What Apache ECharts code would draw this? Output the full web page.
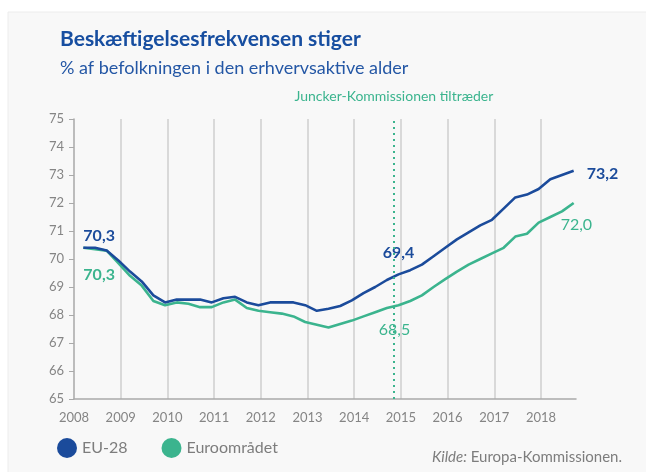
<!DOCTYPE html>
<html>
<head>
<meta charset="utf-8">
<script src="https://cdn.jsdelivr.net/npm/echarts@6/dist/echarts.min.js"></script>
<style>
  html, body { margin: 0; padding: 0; background: #fff; }
  #chart { width: 646px; height: 472px; }
</style>
</head>
<body>
<div id="chart"></div>
<script>
// quarterly data 2008Q1 .. 2018Q3
const quarters = []
for (let y = 2008; y <= 2018; y++) {
  for (let q = 1; q <= 4; q++) {
    if (y === 2018 && q === 4) break
    quarters.push(y + (q - 0.2) / 4)
  }
}

const eu28 = [
  70.4, 70.4, 70.3, 69.95,
  69.55, 69.2, 68.7, 68.45,
  68.55, 68.55, 68.55, 68.45,
  68.6, 68.65, 68.45, 68.35,
  68.45, 68.45, 68.45, 68.35,
  68.15, 68.22, 68.32, 68.52,
  68.78, 69.0, 69.25, 69.45,
  69.6, 69.8, 70.1, 70.4,
  70.7, 70.95, 71.2, 71.4,
  71.8, 72.2, 72.3, 72.5,
  72.85, 73.0, 73.15
]

const euroArea = [
  70.4, 70.35, 70.3, 69.85,
  69.4, 69.05, 68.5, 68.35,
  68.45, 68.4, 68.28, 68.28,
  68.45, 68.55, 68.25, 68.15,
  68.1, 68.05, 67.95, 67.75,
  67.65, 67.55, 67.68, 67.8,
  67.95, 68.1, 68.25, 68.35,
  68.5, 68.7, 69.0, 69.28,
  69.55, 69.8, 70.0, 70.2,
  70.4, 70.8, 70.9, 71.3,
  71.5, 71.7, 72.0
]

const juncker = 2014.85
const blue = '#1b4b9b'
const green = '#3bb48e'
const grey = '#7d7d7d'

const chart = echarts.init(document.getElementById('chart'))

const panel = {
  type: 'rect', z: -10,
  shape: { x: 8, y: 12, width: 640, height: 470 },
  style: { fill: '#f8f8f8', stroke: '#ececec', lineWidth: 1 }
}

chart.setOption({
  backgroundColor: '#fff',
  animation: false,
  textStyle: { fontFamily: 'Lato' },
  graphic: [panel],
  title: {
    text: 'Beskæftigelsesfrekvensen stiger',
    subtext: '% af befolkningen i den erhvervsaktive alder',
    left: 55,
    top: 24,
    itemGap: 9,
    textStyle: { color: '#174ea0', fontSize: 21, fontWeight: 'bold', fontFamily: 'Lato' },
    subtextStyle: { color: '#2457a5', fontSize: 18, fontFamily: 'Lato' }
  },
  legend: {
    left: 52,
    top: 433,
    icon: 'circle',
    itemWidth: 20,
    itemHeight: 20,
    itemGap: 34,
    textStyle: { color: grey, fontSize: 16, padding: [8, 0, 0, 0] },
    data: ['EU-28', 'Euroområdet']
  },
  grid: { left: 74, right: 70, top: 119, bottom: 73 },
  xAxis: {
    type: 'value',
    min: 2008,
    max: 2018.75,
    interval: 1,
    axisLine: { lineStyle: { color: '#a9a9a9', width: 1.5 } },
    axisTick: { show: false },
    axisLabel: {
      color: '#858585', fontSize: 13, margin: 12, showMaxLabel: false,
      formatter: v => Number.isInteger(v) ? String(v) : ''
    },
    splitLine: { show: true, showMinLine: false, showMaxLine: false, lineStyle: { color: '#cfcfcf', width: 1.5 } }
  },
  yAxis: {
    type: 'value',
    min: 65,
    max: 75,
    interval: 1,
    axisLine: { show: true, lineStyle: { color: '#a9a9a9', width: 1.5 } },
    axisTick: { show: true, length: 5, lineStyle: { color: '#a9a9a9' } },
    axisLabel: { color: '#858585', fontSize: 13, margin: 10 },
    splitLine: { show: false }
  },
  series: [
    {
      name: 'EU-28',
      type: 'line',
      showSymbol: false,
      color: blue,
      lineStyle: { width: 2.6, color: blue },
      data: quarters.map((x, i) => [x, eu28[i]]),
      z: 3
    },
    {
      name: 'Euroområdet',
      type: 'line',
      showSymbol: false,
      color: green,
      lineStyle: { width: 2.6, color: green },
      data: quarters.map((x, i) => [x, euroArea[i]]),
      z: 2,
      markLine: {
        silent: true,
        symbol: 'none',
        label: { show: false },
        lineStyle: { type: [2, 4], color: green, width: 2 },
        data: [{ xAxis: juncker }]
      }
    }
  ]
})

// value labels placed through the chart's own scales
function at(x, y) { return chart.convertToPixel('grid', [x, y]) }
const last = quarters.length - 1
const k = 27 // 2014Q4
const labels = [
  { i: 0, s: eu28, dx: 0, dy: -12, text: '70,3', color: blue, weight: 'bold', align: 'left' },
  { i: 0, s: euroArea, dx: 0, dy: 27, text: '70,3', color: green, weight: 'bold', align: 'left' },
  { i: k, s: eu28, dx: 0, dy: -22, text: '69,4', color: blue, weight: 'bold', align: 'center' },
  { i: k, s: euroArea, dx: -4, dy: 25, text: '68,5', color: green, weight: 'normal', align: 'center' },
  { i: last, s: eu28, dx: 13, dy: 3, text: '73,2', color: blue, weight: 'bold', align: 'left' },
  { i: last, s: euroArea, dx: -13, dy: 22, text: '72,0', color: green, weight: 'normal', align: 'left' }
]
const lineTop = at(juncker, 75)

chart.setOption({
  graphic: [panel].concat(labels.map(l => {
    const p = at(quarters[l.i], l.s[l.i])
    return {
      type: 'text',
      x: p[0] + l.dx,
      y: p[1] + l.dy,
      style: {
        text: l.text, fill: l.color, fontSize: 16, fontWeight: l.weight,
        fontFamily: 'Lato', align: l.align, verticalAlign: 'middle'
      }
    }
  })).concat([
    {
      type: 'text', x: lineTop[0], y: lineTop[1] - 23,
      style: { text: 'Juncker-Kommissionen tiltræder', fill: green, fontSize: 14, fontFamily: 'Lato', align: 'center', verticalAlign: 'middle' }
    },
    {
      type: 'text', x: 622, y: 457,
      style: {
        text: '{i|Kilde:} Europa-Kommissionen.', fill: grey, fontSize: 15, fontFamily: 'Lato', align: 'right', verticalAlign: 'middle',
        rich: { i: { fontStyle: 'italic', fontSize: 15, fill: grey, fontFamily: 'Lato' } }
      }
    }
  ])
})
</script>
</body>
</html>
